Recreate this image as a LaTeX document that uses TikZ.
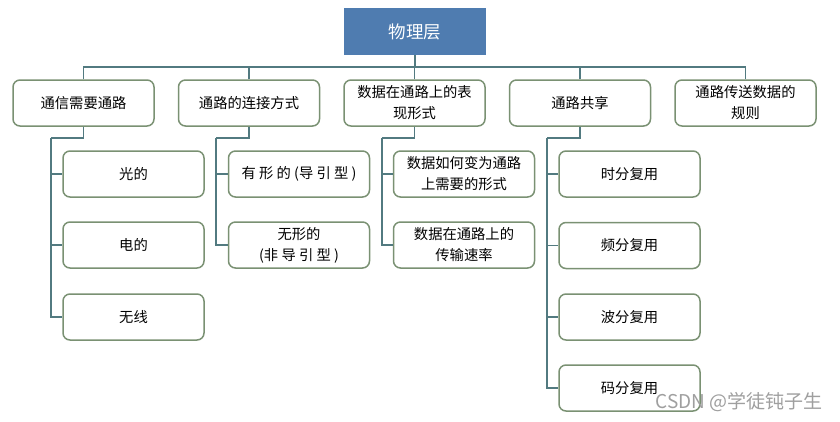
\documentclass[tikz,border=0pt]{standalone}
\usepackage{fontspec}
\setmainfont{Noto Sans CJK SC}
\definecolor{topblue}{RGB}{79,124,176}
\definecolor{boxline}{RGB}{122,145,115}
\definecolor{conn}{RGB}{82,122,128}
\begin{document}
\begin{tikzpicture}[x=1pt,y=-1pt,
  lvbox/.style={draw=boxline,line width=1.5pt,rounded corners=7pt,fill=white,
    minimum width=141pt,minimum height=46pt,align=center,inner sep=1pt,
    font=\fontsize{14.3}{21}\selectfont},
  conline/.style={draw=conn,line width=1.4pt}]
\useasboundingbox[fill=white] (0,0) rectangle (840,421);
% top
\node[fill=topblue,minimum width=142pt,minimum height=47pt,text=white,
  font=\fontsize{17.5}{20}\selectfont] (top) at (415,31.5) {物理层};
% level 1
\node[lvbox] (b1) at (83.5,103) {通信需要通路};
\node[lvbox] (b2) at (249,103) {通路的连接方式};
\node[lvbox] (b3) at (414.5,103) {数据在通路上的表\\现形式};
\node[lvbox] (b4) at (580,103) {通路共享};
\node[lvbox] (b5) at (745.5,103) {通路传送数据的\\规则};
% group 1
\node[lvbox] (c11) at (133.5,174) {光的};
\node[lvbox] (c12) at (133.5,245) {电的};
\node[lvbox] (c13) at (133.5,317) {无线};
% group 2
\node[lvbox] (c21) at (299,174) {有 形 的 (导 引 型 )};
\node[lvbox] (c22) at (299,245) {无形的\\(非 导 引 型 )};
% group 3
\node[lvbox] (c31) at (464,174) {数据如何变为通路\\上需要的形式};
\node[lvbox] (c32) at (464,245) {数据在通路上的\\传输速率};
% group 4
\node[lvbox] (c41) at (629.5,174) {时分复用};
\node[lvbox] (c42) at (629.5,245.5) {频分复用};
\node[lvbox] (c43) at (629.5,317) {波分复用};
\node[lvbox] (c44) at (629.5,388) {码分复用};
% connectors
\coordinate (bus) at (415,67);
\coordinate (j1) at (51,138);
\coordinate (j2) at (216,138);
\coordinate (j3) at (382,138);
\coordinate (j4) at (547,138);
\draw[conline] (top.south) -- (bus);
\foreach \b in {b1,b2,b3,b4,b5}{\draw[conline] (\b.north) |- (bus);}
\draw[conline] (b1.south) |- (j1);
\draw[conline] (b2.south) |- (j2);
\draw[conline] (b3.south) |- (j3);
\draw[conline] (b4.south) |- (j4);
\foreach \c in {c11,c12,c13}{\draw[conline] (j1) |- (\c.west);}
\foreach \c in {c21,c22}{\draw[conline] (j2) |- (\c.west);}
\foreach \c in {c31,c32}{\draw[conline] (j3) |- (\c.west);}
\foreach \c in {c41,c42,c43,c44}{\draw[conline] (j4) |- (\c.west);}
% watermark
\node[text=gray!75,font=\fontsize{19}{21}\selectfont,anchor=east,inner sep=0pt] (wm) at (823,402) {CSDN @学徒钝子生};
\end{tikzpicture}
\end{document}
